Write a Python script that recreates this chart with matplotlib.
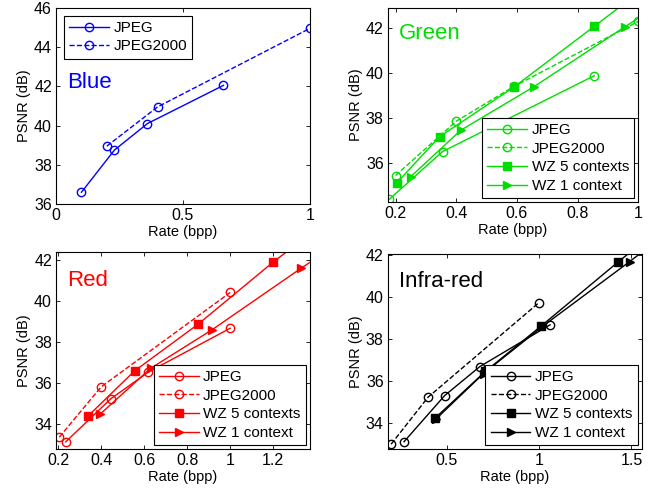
import matplotlib
matplotlib.use("Agg")
import matplotlib.pyplot as plt
from matplotlib.ticker import FuncFormatter

plt.rcParams['font.family'] = ['Liberation Sans', 'DejaVu Sans']

# ---- datos ----
blue_jpeg_x = [0.10, 0.23, 0.36, 0.66]
blue_jpeg_y = [36.6, 38.75, 40.1, 42.05]
blue_j2k_x = [0.20, 0.40, 1.00]
blue_j2k_y = [38.95, 40.95, 44.95]

green_jpeg_x = [0.18, 0.355, 0.855]
green_jpeg_y = [34.38, 36.5, 39.88]
green_j2k_x = [0.20, 0.40, 0.59, 1.00]
green_j2k_y = [35.43, 37.85, 39.4, 42.3]
green_wz5_x = [0.205, 0.345, 0.59, 0.855, 1.10]
green_wz5_y = [35.12, 37.16, 39.37, 42.08, 44.6]
green_wz1_x = [0.25, 0.415, 0.655, 0.955, 1.20]
green_wz1_y = [35.38, 37.45, 39.38, 42.05, 44.2]

red_jpeg_x = [0.235, 0.445, 0.62, 1.00]
red_jpeg_y = [33.15, 35.25, 36.55, 38.68]
red_j2k_x = [0.205, 0.40, 1.00]
red_j2k_y = [33.38, 35.83, 40.42]
red_wz5_x = [0.34, 0.555, 0.85, 1.20, 1.50]
red_wz5_y = [34.42, 36.6, 38.87, 41.9, 44.3]
red_wz1_x = [0.395, 0.63, 0.915, 1.33, 1.60]
red_wz1_y = [34.5, 36.73, 38.6, 41.6, 43.5]

ir_jpeg_x = [0.27, 0.49, 0.68, 1.06]
ir_jpeg_y = [33.1, 35.3, 36.68, 38.67]
ir_j2k_x = [0.20, 0.40, 1.00]
ir_j2k_y = [32.98, 35.22, 39.73]
ir_wz5_x = [0.44, 0.71, 1.01, 1.43, 1.70]
ir_wz5_y = [34.24, 36.45, 38.6, 41.68, 43.6]
ir_wz1_x = [0.445, 0.70, 1.02, 1.49, 1.70]
ir_wz1_y = [34.2, 36.35, 38.6, 41.68, 43.1]

etiquetas = ['JPEG', 'JPEG2000', 'WZ 5 contexts', 'WZ 1 context']

fig = plt.figure(figsize=(6.52, 4.94), dpi=100)
fmt = FuncFormatter(lambda v, p: f"{v:g}")


def preparar(ax, xlim, ylim, xticks, yticks):
    ax.set_xlim(xlim)
    ax.set_ylim(ylim)
    ax.set_xticks(xticks)
    ax.set_yticks(yticks)
    ax.xaxis.set_major_formatter(fmt)
    ax.yaxis.set_major_formatter(fmt)
    ax.tick_params(direction='in', top=True, right=True, labelsize=11.5,
                   length=3, width=0.6, pad=3)
    for s in ax.spines.values():
        s.set_linewidth(0.8)
    ax.set_xlabel('Rate (bpp)', fontsize=10.5, labelpad=1)
    ax.set_ylabel('PSNR (dB)', fontsize=10.5, labelpad=2)


def curvas(ax, c, datos):
    kw = dict(color=c, lw=1.0, ms=6)
    ax.plot(datos[0][0], datos[0][1], '-o', mfc='none', label=etiquetas[0], **kw)
    ax.plot(datos[1][0], datos[1][1], '--o', mfc='none', label=etiquetas[1], **kw)
    if len(datos) > 2:
        ax.plot(datos[2][0], datos[2][1], '-s', mfc=c, label=etiquetas[2], **kw)
        ax.plot(datos[3][0], datos[3][1], '->', mfc=c, label=etiquetas[3], **kw)


def leyenda(ax, loc, pad=0.25):
    lg = ax.legend(loc=loc, fontsize=11, fancybox=False, framealpha=1,
                   edgecolor='black', handlelength=2.6, borderaxespad=pad,
                   labelspacing=0.3, handletextpad=0.3, borderpad=0.35)
    lg.get_frame().set_linewidth(0.8)


# Azul
ax1 = fig.add_axes([0.086, 0.587, 0.389, 0.397])
curvas(ax1, 'blue', [(blue_jpeg_x, blue_jpeg_y), (blue_j2k_x, blue_j2k_y)])
preparar(ax1, (0, 1.0), (36, 46), [0, 0.5, 1], [36, 38, 40, 42, 44, 46])
leyenda(ax1, 'upper left', pad=0.5)
ax1.text(0.045, 0.59, 'Blue', color='blue', fontsize=16, transform=ax1.transAxes)

# Verde
ax2 = fig.add_axes([0.595, 0.591, 0.384, 0.393])
curvas(ax2, '#00dd00', [(green_jpeg_x, green_jpeg_y), (green_j2k_x, green_j2k_y),
                        (green_wz5_x, green_wz5_y), (green_wz1_x, green_wz1_y)])
preparar(ax2, (0.175, 1.0), (34.25, 42.9), [0.2, 0.4, 0.6, 0.8, 1.0], [36, 38, 40, 42])
leyenda(ax2, 'lower right')
ax2.text(0.045, 0.84, 'Green', color='#00dd00', fontsize=16, transform=ax2.transAxes)

# Rojo
ax3 = fig.add_axes([0.086, 0.091, 0.389, 0.398])
curvas(ax3, 'red', [(red_jpeg_x, red_jpeg_y), (red_j2k_x, red_j2k_y),
                    (red_wz5_x, red_wz5_y), (red_wz1_x, red_wz1_y)])
preparar(ax3, (0.19, 1.37), (32.8, 42.37), [0.2, 0.4, 0.6, 0.8, 1.0, 1.2], [34, 36, 38, 40, 42])
leyenda(ax3, 'lower right')
ax3.text(0.045, 0.83, 'Red', color='red', fontsize=16, transform=ax3.transAxes)

# Infrarrojo
ax4 = fig.add_axes([0.595, 0.091, 0.389, 0.395])
curvas(ax4, 'black', [(ir_jpeg_x, ir_jpeg_y), (ir_j2k_x, ir_j2k_y),
                      (ir_wz5_x, ir_wz5_y), (ir_wz1_x, ir_wz1_y)])
preparar(ax4, (0.183, 1.555), (32.75, 42.05), [0.5, 1.0, 1.5], [34, 36, 38, 40, 42])
leyenda(ax4, 'lower right')
ax4.text(0.045, 0.83, 'Infra-red', color='black', fontsize=16, transform=ax4.transAxes)

fig.savefig('out.png', dpi=100)
